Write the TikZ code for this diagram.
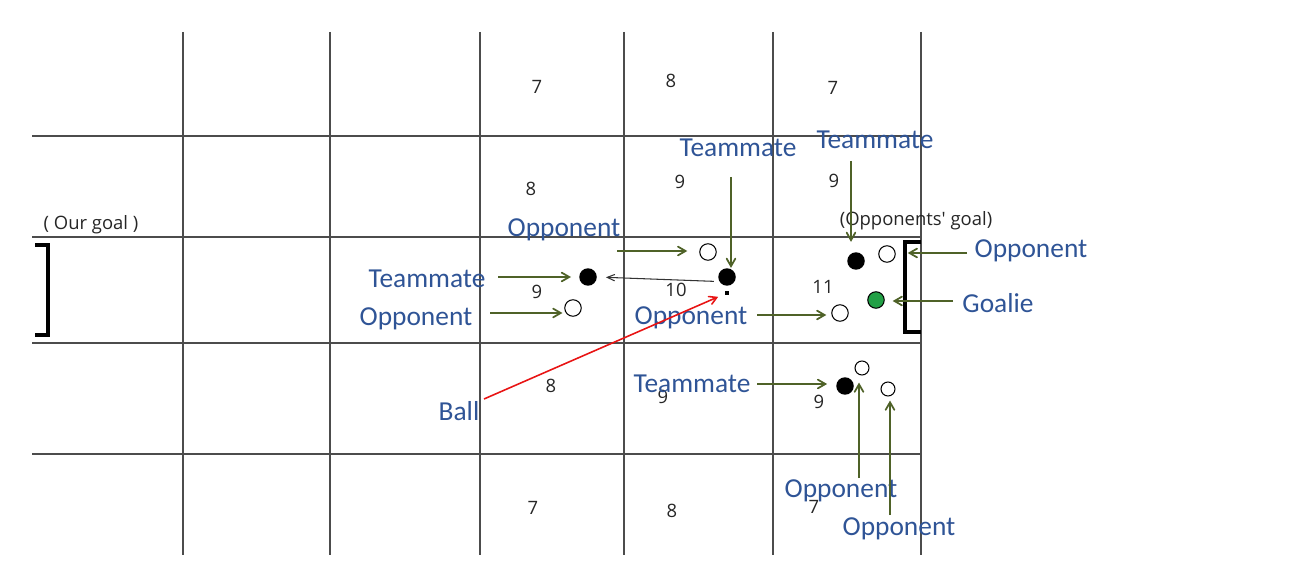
\documentclass[tikz,border=0pt]{standalone}
\usepackage{fontspec}
\setmainfont{Carlito}
\newfontfamily\numfont{Open Sans}
\usepackage{tikz}
\usetikzlibrary{arrows}
\definecolor{tagblue}{RGB}{47,84,150}
\definecolor{pointgreen}{RGB}{79,98,40}
\definecolor{keepergreen}{RGB}{34,160,70}
\definecolor{ballred}{RGB}{232,20,20}

\begin{document}
\begin{tikzpicture}[x=0.02cm,y=-0.02cm]
					\tikzstyle{fieldline}=[draw=black!70,line width=0.8pt]
					\tikzstyle{goalpost}=[draw=black,line width=1.8pt]
					\tikzstyle{mate}=[circle,fill=black,minimum size=0.35cm,inner sep=0pt]
					\tikzstyle{opp}=[circle,draw=black,fill=white,minimum size=0.33cm,inner sep=0pt,line width=0.6pt]
					\tikzstyle{tag}=[text=tagblue,font=\fontsize{15.6}{18}\selectfont,anchor=base,inner sep=0pt]
					\tikzstyle{num}=[text=black!85,font=\numfont\fontsize{10.5}{12}\selectfont,inner sep=0pt]
					\tikzstyle{pointer}=[-angle 60,draw=pointgreen,line width=1pt]
					\useasboundingbox (0,0) rectangle (1298,584);
					% field
					\foreach \x in {183,330,480,624,773,921}
						\draw[fieldline] (\x,32) -- (\x,555);
					\foreach \y in {136,237,343,454}
						\draw[fieldline] (32,\y) -- (921,\y);
					\draw[goalpost] (35,245) -- (48,245) -- (48,335) -- (35,335);
					\draw[goalpost] (921,242) -- (905,242) -- (905,332) -- (921,332);
					\foreach \n/\x/\y in {7/537/87,8/671/81,7/833/88,8/531/189,9/680/182,9/834/181,9/537/292,10/676/290,11/823/287,8/551/386,9/663/397,9/819/402,7/533/508,8/672/511,7/814/507}
						\node[num] at (\x,\y) {\n};
					\node[num] (ourgoal) at (91,225) {( Our goal )};
					\node[num] (oppgoal) at (916,221) {(Opponents' goal)};
					% players
					\node[mate] (t1) at (588,277) {};
					\node[opp] (o1) at (573,308) {};
					\node[opp] (o2) at (708,252) {};
					\node[mate] (t2) at (727,277) {};
					\node[fill=black,minimum size=0.08cm,inner sep=0pt] (ball) at (727,293) {};
					\node[mate] (t3) at (856,261) {};
					\node[opp] (o3) at (887,254) {};
					\node[circle,draw=black,fill=keepergreen,minimum size=0.33cm,inner sep=0pt,line width=0.6pt] (gk) at (876,300) {};
					\node[opp] (o4) at (840,313) {};
					\node[mate] (t4) at (845,386) {};
					\node[opp,minimum size=0.28cm] (o5) at (862,368) {};
					\node[opp,minimum size=0.28cm] (o6) at (888,389) {};
					\draw[-angle 45,draw=black!80,line width=0.6pt,shorten <=3pt,shorten >=5pt] (t2.210) -- (t1.east);
					% labels
					\node[tag] (l1) at (427,287) {Teammate};
					\node[tag] (l2) at (416,325) {Opponent};
					\node[tag] (l3) at (564,236) {Opponent};
					\node[tag] (l4) at (738,157) {Teammate};
					\node[tag] (l5) at (875,149) {Teammate};
					\node[tag] (l6) at (1031,257) {Opponent};
					\node[tag] (l7) at (998,313) {Goalie};
					\node[tag] (l8) at (691,324) {Opponent};
					\node[tag] (l9) at (692,392) {Teammate};
					\node[tag] (l10) at (841,497) {Opponent};
					\node[tag] (l11) at (899,535) {Opponent};
					\node[tag] (l12) at (459,420) {Ball};
					% pointers
					\coordinate (s1) at (498,277);
					\coordinate (s2) at (490,313);
					\coordinate (s3) at (617,251);
					\coordinate (s4) at (731,177);
					\coordinate (s5) at (851,161);
					\coordinate (s6) at (967,253);
					\coordinate (s7) at (953,301);
					\coordinate (s8) at (757,315);
					\coordinate (s9) at (757,384);
					\coordinate (s10) at (859,478);
					\coordinate (s11) at (890,515);
					\coordinate (s12) at (484,399);
					\draw[pointer,shorten >=4.5pt] (s1) -- (s1 -| t1.west);
					\draw[pointer,shorten >=1pt] (s2) -- (s2 -| o1.west);
					\draw[pointer,shorten >=6.8pt] (s3) -- (s3 -| o2.west);
					\draw[pointer] (s4) -- (s4 |- t2.north);
					\draw[pointer,shorten >=5.7pt] (s5) -- (s5 |- t3.north);
					\draw[pointer,shorten >=6.8pt] (s6) -- (s6 -| o3.east);
					\draw[pointer,shorten >=4.5pt] (s7) -- (s7 -| gk.east);
					\draw[pointer,shorten >=2.8pt] (s8) -- (s8 -| o4.west);
					\draw[pointer,shorten >=5pt] (s9) -- (s9 -| t4.west);
					\draw[pointer,shorten >=4pt] (s10) -- (s10 |- o5.south);
					\draw[pointer,shorten >=2.3pt] (s11) -- (s11 |- o6.south);
					\draw[-angle 60,draw=ballred,line width=0.9pt,shorten >=4pt] (s12) -- (ball);
					\end{tikzpicture}
\end{document}
